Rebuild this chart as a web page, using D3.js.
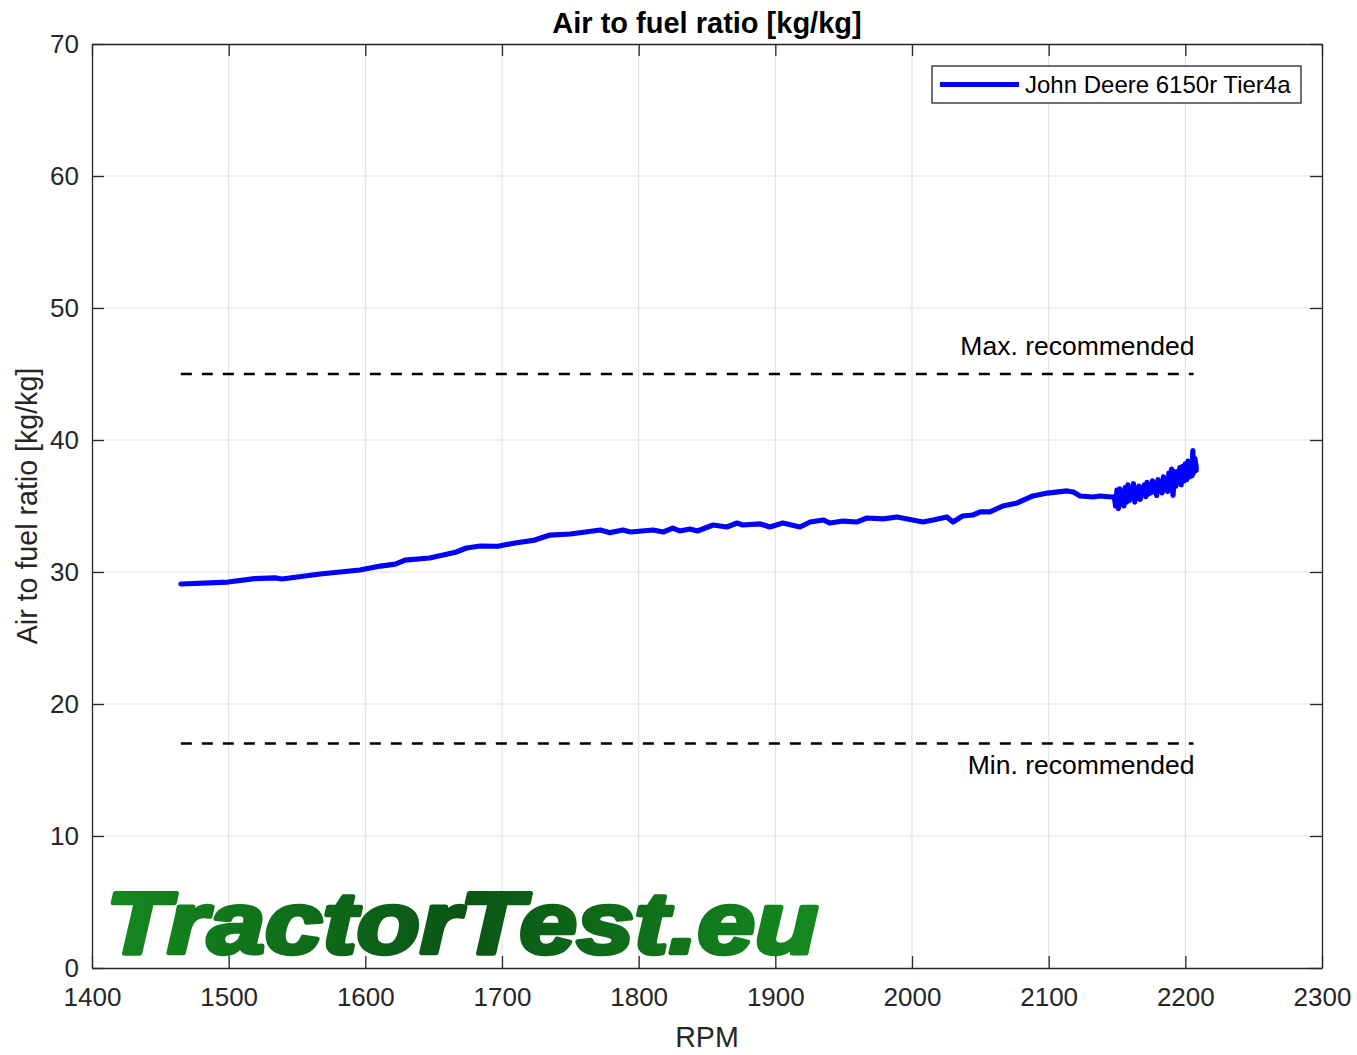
<!DOCTYPE html>
<html lang="en">
<head>
    <meta charset="utf-8">
    <title>Air to fuel ratio</title>
    <script src="https://cdn.jsdelivr.net/npm/d3@7"></script>
    <style>
        body { margin: 0; background: #fff; }
        text { font-family: "Liberation Sans", Arial, sans-serif; }
    </style>
</head>
<body>
    <div id="chart"></div>
    <script type="text/javascript">
        // rpm / air to fuel ratio
        const rpm = [1465, 1499.5, 1519, 1534, 1539, 1567, 1596, 1611, 1622, 1629, 1647, 1666, 1674, 1684, 1697,
            1709.5, 1724, 1735, 1750, 1761, 1772, 1779, 1788.5, 1794, 1810.5, 1818, 1825, 1830, 1837.5, 1843,
            1854.5, 1864.5, 1872, 1876, 1889, 1896, 1905.5, 1918, 1925.5, 1935, 1940, 1949.5, 1960, 1967, 1979,
            1989, 2000.5, 2008, 2015.5, 2025.5, 2030, 2037, 2044.5, 2050, 2057, 2066.5, 2077, 2088.5, 2099,
            2113.5, 2118, 2123, 2132.5, 2137.5, 2146,
            2148, 2149, 2150, 2151, 2152, 2153, 2154, 2155, 2156, 2157, 2158, 2159, 2160, 2161, 2162, 2163,
            2164, 2165, 2166, 2167, 2168, 2169, 2170, 2171, 2172, 2173, 2174, 2175, 2176, 2177, 2178, 2179,
            2180, 2181, 2182, 2183, 2184, 2185, 2186, 2187, 2188, 2189, 2190, 2191, 2192, 2193, 2194, 2195,
            2196, 2197, 2198, 2199, 2200, 2201, 2202, 2203, 2204, 2205, 2205.5, 2206, 2207, 2208, 2207, 2208];
        const afr = [29.09, 29.24, 29.5, 29.55, 29.47, 29.85, 30.15, 30.45, 30.6, 30.9, 31.06, 31.5, 31.82, 31.97, 31.95,
            32.2, 32.42, 32.8, 32.88, 33.03, 33.18, 32.98, 33.18, 33.03, 33.18, 33.03, 33.33, 33.11, 33.26, 33.11,
            33.56, 33.41, 33.71, 33.56, 33.64, 33.41, 33.71, 33.41, 33.79, 33.94, 33.71, 33.86, 33.79, 34.09, 34.02,
            34.17, 33.94, 33.79, 33.94, 34.17, 33.79, 34.24, 34.32, 34.55, 34.55, 35.0, 35.23, 35.76, 35.98,
            36.14, 36.06, 35.76, 35.68, 35.76, 35.68,
            35.7, 35.0, 36.2, 34.8, 36.3, 35.2, 36.1, 35.0, 36.4, 35.3, 36.6, 35.4, 36.2, 35.6, 36.7, 35.3,
            36.3, 35.6, 36.5, 35.5, 36.4, 35.9, 36.6, 35.7, 36.8, 35.9, 36.5, 36.0, 36.9, 36.1, 36.6, 35.8,
            37.0, 36.2, 36.8, 36.0, 37.2, 36.3, 37.0, 36.1, 37.5, 36.4, 37.8, 35.8, 37.6, 36.5, 37.6, 36.8,
            37.9, 36.6, 38.0, 36.9, 38.2, 37.0, 38.4, 37.2, 38.3, 37.3, 39.2, 37.5, 38.6, 37.9, 38.4, 37.7];

        const limitRpm = [1465, 2206];
        const maxRec = 45;
        const minRec = 17;

        const xTicks = [1400, 1500, 1600, 1700, 1800, 1900, 2000, 2100, 2200, 2300];
        const yTicks = [0, 10, 20, 30, 40, 50, 60, 70];

        const width = 1357, height = 1055;
        const margin = {left: 92, right: 35, top: 44, bottom: 87};
        const axisColor = "#262626";

        const svg = d3.select("#chart").append("svg")
            .attr("width", width)
            .attr("height", height);

        const x = d3.scaleLinear().domain([1400, 2300]).range([margin.left, width - margin.right]);
        const y = d3.scaleLinear().domain([0, 70]).range([height - margin.bottom, margin.top]);

        // grid
        svg.append("g")
            .selectAll("line.gx")
            .data(xTicks.slice(1, -1))
            .join("line")
                .attr("x1", d => x(d)).attr("x2", d => x(d))
                .attr("y1", y(0)).attr("y2", y(70))
                .attr("stroke", "#dfdfdf").attr("stroke-width", 1);
        svg.append("g")
            .selectAll("line.gy")
            .data(yTicks.slice(1, -1))
            .join("line")
                .attr("y1", d => y(d)).attr("y2", d => y(d))
                .attr("x1", x(1400)).attr("x2", x(2300))
                .attr("stroke", "#dfdfdf").attr("stroke-width", 1);

        // watermark
        const defs = svg.append("defs");
        const grad = defs.append("linearGradient").attr("id", "logoGrad")
            .attr("x1", "0%").attr("x2", "100%").attr("y1", "0%").attr("y2", "0%");
        grad.append("stop").attr("offset", "0%").attr("stop-color", "#15891f");
        grad.append("stop").attr("offset", "50%").attr("stop-color", "#0a5515");
        grad.append("stop").attr("offset", "100%").attr("stop-color", "#15891f");

        svg.append("text")
            .attr("x", 106)
            .attr("y", 953)
            .attr("textLength", 712)
            .attr("lengthAdjust", "spacingAndGlyphs")
            .style("font-size", "88px")
            .style("font-weight", "bold")
            .style("font-style", "italic")
            .attr("fill", "url(#logoGrad)")
            .attr("stroke", "url(#logoGrad)")
            .attr("stroke-width", 4.5)
            .attr("stroke-linejoin", "round")
            .text("TractorTest.eu");

        // recommended limits
        [maxRec, minRec].forEach(v => {
            svg.append("line")
                .attr("x1", x(limitRpm[0])).attr("x2", x(limitRpm[1]))
                .attr("y1", y(v)).attr("y2", y(v))
                .attr("stroke", "#000")
                .attr("stroke-width", 2.5)
                .attr("stroke-dasharray", "11 10");
        });
        svg.append("text")
            .attr("x", x(limitRpm[1]) + 1).attr("y", y(maxRec) - 19)
            .attr("text-anchor", "end")
            .style("font-size", "26.5px")
            .text("Max. recommended");
        svg.append("text")
            .attr("x", x(limitRpm[1]) + 1).attr("y", y(minRec) + 30)
            .attr("text-anchor", "end")
            .style("font-size", "26.5px")
            .text("Min. recommended");

        // data line
        const line = d3.line().x((d, i) => x(rpm[i])).y(d => y(d));
        svg.append("path")
            .datum(afr)
            .attr("fill", "none")
            .attr("stroke", "#0000ff")
            .attr("stroke-width", 5.2)
            .attr("stroke-linejoin", "round")
            .attr("stroke-linecap", "round")
            .attr("d", line);

        // axes (box with inward ticks)
        const tickLen = 12;
        const fmt = d3.format("d");
        const xAxisB = d3.axisBottom(x).tickValues(xTicks).tickFormat(fmt).tickSizeInner(-tickLen).tickSizeOuter(0).tickPadding(20);
        const xAxisT = d3.axisTop(x).tickValues(xTicks).tickSizeInner(-tickLen).tickSizeOuter(0).tickFormat("");
        const yAxisL = d3.axisLeft(y).tickValues(yTicks).tickFormat(fmt).tickSizeInner(-tickLen).tickSizeOuter(0).tickPadding(13);
        const yAxisR = d3.axisRight(y).tickValues(yTicks).tickSizeInner(-tickLen).tickSizeOuter(0).tickFormat("");

        function styleAxis(g) {
            g.select(".domain").attr("stroke", axisColor).attr("stroke-width", 1.3);
            g.selectAll(".tick line").attr("stroke", axisColor).attr("stroke-width", 1.3);
            g.selectAll(".tick text").attr("fill", axisColor).style("font-size", "26px")
                .style("font-family", "'Liberation Sans', Arial, sans-serif");
        }

        svg.append("g").attr("transform", `translate(0,${y(0)})`).call(xAxisB).call(styleAxis);
        svg.append("g").attr("transform", `translate(0,${y(70)})`).call(xAxisT).call(styleAxis);
        svg.append("g").attr("transform", `translate(${x(1400)},0)`).call(yAxisL).call(styleAxis);
        svg.append("g").attr("transform", `translate(${x(2300)},0)`).call(yAxisR).call(styleAxis);

        // titles
        svg.append("text")
            .attr("x", (x(1400) + x(2300)) / 2).attr("y", 33)
            .attr("text-anchor", "middle")
            .style("font-size", "29px").style("font-weight", "bold")
            .attr("fill", "#000")
            .text("Air to fuel ratio [kg/kg]");
        svg.append("text")
            .attr("x", (x(1400) + x(2300)) / 2).attr("y", 1047)
            .attr("text-anchor", "middle")
            .style("font-size", "28.6px")
            .attr("fill", axisColor)
            .text("RPM");
        svg.append("text")
            .attr("transform", `translate(37,${(y(0) + y(70)) / 2}) rotate(-90)`)
            .attr("text-anchor", "middle")
            .style("font-size", "28.6px")
            .attr("fill", axisColor)
            .text("Air to fuel ratio [kg/kg]");

        // legend
        const lg = svg.append("g");
        lg.append("rect")
            .attr("x", 932).attr("y", 66).attr("width", 369).attr("height", 37)
            .attr("fill", "#fff").attr("stroke", axisColor).attr("stroke-width", 1.3);
        lg.append("line")
            .attr("x1", 940).attr("x2", 1019).attr("y1", 84.5).attr("y2", 84.5)
            .attr("stroke", "#0000ff").attr("stroke-width", 5.2);
        lg.append("text")
            .attr("x", 1025).attr("y", 93)
            .style("font-size", "24px")
            .attr("fill", "#000")
            .text("John Deere 6150r Tier4a");
    </script>
</body>
</html>
